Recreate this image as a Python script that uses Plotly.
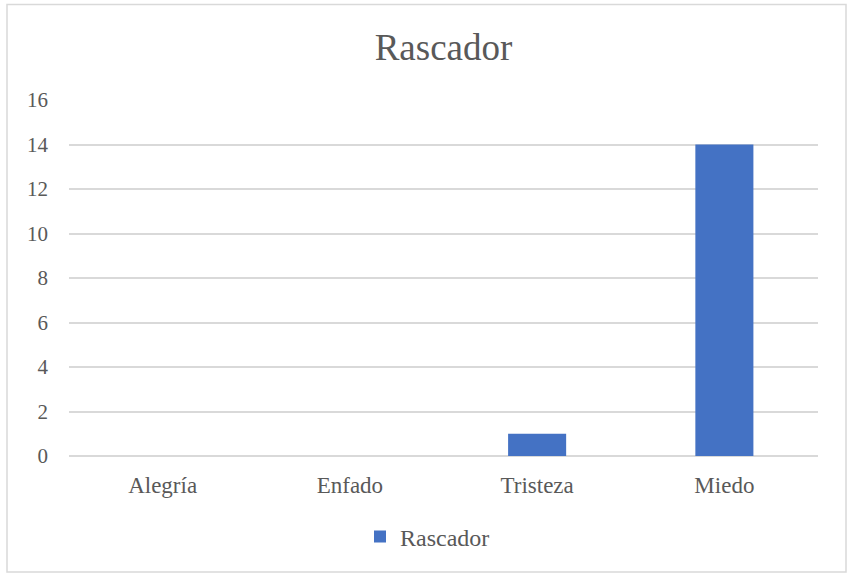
import plotly.graph_objects as go

categories = ["Alegría", "Enfado", "Tristeza", "Miedo"]
values = [0, 0, 1, 14]
series_name = "Rascador"
y_ticks = [0, 2, 4, 6, 8, 10, 12, 14, 16]

W, H = 849, 574
L, R, T, B = 69, 31, 100, 118
pw, ph = W - L - R, H - T - B

fig = go.Figure(go.Bar(
    x=categories, y=values, name=series_name,
    marker=dict(color="#4472C4", line=dict(width=0)),
    width=0.31, showlegend=True,
))

font = "Liberation Serif"
grey = "#595959"
fig.update_layout(
    width=W, height=H,
    margin=dict(l=L, r=R, t=T, b=B),
    paper_bgcolor="white", plot_bgcolor="white",
    font=dict(family=font, color=grey, size=23),
    title=dict(text="Rascador", x=443.5 / W, xanchor="center", y=1 - 47 / H, yanchor="middle",
               font=dict(size=37, color=grey, family=font)),
    showlegend=True,
    legend=dict(orientation="h", x=(360 - L) / pw, xanchor="left", y=(456 - 537) / ph, yanchor="middle",
                font=dict(size=24, color=grey, family=font), itemwidth=30),
    xaxis=dict(showgrid=False, showline=False, ticks="", tickfont=dict(size=23, family=font, color=grey),
               ticklabelstandoff=13),
    yaxis=dict(range=[0, 16], tickvals=y_ticks, showgrid=True, gridcolor="#D9D9D9",
               gridwidth=1.5, zeroline=True, zerolinecolor="#D9D9D9", zerolinewidth=2,
               showline=False, ticks="", tickfont=dict(size=21, family=font, color=grey),
               ticklabelstandoff=20),
    shapes=[dict(type="rect", xref="paper", yref="paper",
                 x0=(7 - L) / pw, x1=(846 - L) / pw,
                 y0=(456 - 572) / ph, y1=(456 - 4.5) / ph,
                 line=dict(color="#D9D9D9", width=1.5), layer="below")],
)

fig.write_html("out.html", config={"displayModeBar": False},
               post_script="document.body.style.margin='0';document.body.style.overflow='hidden';")
